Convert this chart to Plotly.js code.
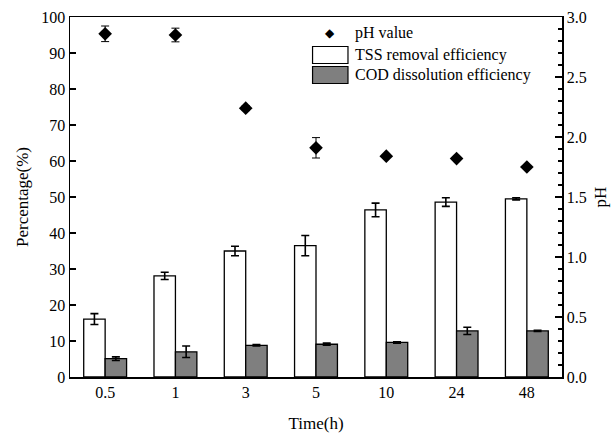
<!DOCTYPE html>
<html>
<head>
<meta charset="utf-8">
<script src="https://cdn.plot.ly/plotly-3.0.1.min.js"></script>
<style>html,body{margin:0;padding:0;background:#fff;}#chart{width:616px;height:433px;}</style>
</head>
<body>
<div id="chart"></div>
<script>
// Data
var times = ['0.5', '1', '3', '5', '10', '24', '48'];
var tssRemoval = [16.1, 28.1, 35.0, 36.5, 46.4, 48.6, 49.5];
var tssError = [1.5, 1.0, 1.3, 2.8, 1.9, 1.2, 0.3];
var codDissolution = [5.1, 7.0, 8.8, 9.1, 9.6, 12.8, 12.8];
var codError = [0.5, 1.6, 0.2, 0.3, 0.2, 1.0, 0.15];
var phValue = [2.86, 2.85, 2.24, 1.91, 1.84, 1.82, 1.75];
var phError = [0.065, 0.057, 0.02, 0.085, 0.01, 0.01, 0.01];
var leftTicks = [0, 10, 20, 30, 40, 50, 60, 70, 80, 90, 100];
var rightTicks = [0, 0.5, 1.0, 1.5, 2.0, 2.5, 3.0];
var legendLabels = ['pH value', 'TSS removal efficiency', 'COD dissolution efficiency'];

var font = 'Liberation Serif, Times New Roman, serif';

var traces = [
  {
    type: 'bar', name: legendLabels[1], x: times, y: tssRemoval,
    marker: {color: '#ffffff', line: {color: '#000000', width: 1.3}},
    error_y: {type: 'data', array: tssError, visible: true, color: '#000000', thickness: 1.6, width: 4},
    showlegend: false
  },
  {
    type: 'bar', name: legendLabels[2], x: times, y: codDissolution,
    marker: {color: '#7f7f7f', line: {color: '#000000', width: 1.3}},
    error_y: {type: 'data', array: codError, visible: true, color: '#000000', thickness: 1.6, width: 4},
    showlegend: false
  },
  {
    type: 'scatter', mode: 'markers', name: legendLabels[0], x: times, y: phValue, yaxis: 'y2',
    marker: {symbol: 'diamond', size: 10.5, color: '#000000'},
    error_y: {type: 'data', array: phError, visible: true, color: '#000000', thickness: 1, width: 4},
    showlegend: false
  }
];

// Manual legend (large swatches as in the reference)
var lx0 = 0.493, lx1 = 0.565, ltx = 0.575;
function py(pix) { return (377 - pix) / 360; }
var shapes = [
  {type: 'rect', xref: 'paper', yref: 'paper', x0: lx0, x1: lx1, y0: py(63.5), y1: py(46.5),
   fillcolor: '#ffffff', line: {color: '#000000', width: 1.2}},
  {type: 'rect', xref: 'paper', yref: 'paper', x0: lx0, x1: lx1, y0: py(83.5), y1: py(66.5),
   fillcolor: '#7f7f7f', line: {color: '#000000', width: 1.2}}
];
var annotations = [
  {xref: 'paper', yref: 'paper', x: (lx0 + lx1) / 2, y: py(33.5), text: '◆', showarrow: false,
   font: {family: 'DejaVu Sans', size: 12, color: '#000'}, xanchor: 'center', yanchor: 'middle'},
  {xref: 'paper', yref: 'paper', x: ltx, y: py(33.5), text: legendLabels[0], showarrow: false,
   font: {family: font, size: 16, color: '#000'}, xanchor: 'left', yanchor: 'middle'},
  {xref: 'paper', yref: 'paper', x: ltx, y: py(55), text: legendLabels[1], showarrow: false,
   font: {family: font, size: 16, color: '#000'}, xanchor: 'left', yanchor: 'middle'},
  {xref: 'paper', yref: 'paper', x: ltx, y: py(75), text: legendLabels[2], showarrow: false,
   font: {family: font, size: 16, color: '#000'}, xanchor: 'left', yanchor: 'middle'}
];

var layout = {
  width: 616, height: 433,
  margin: {l: 70, r: 54, t: 17, b: 56},
  paper_bgcolor: '#ffffff', plot_bgcolor: '#ffffff',
  font: {family: font, size: 16, color: '#000000'},
  barmode: 'group', bargap: 0.39, bargroupgap: 0,
  showlegend: false,
  xaxis: {
    type: 'category', categoryorder: 'array', categoryarray: times,
    showline: true, linecolor: '#000', linewidth: 1.5, mirror: true,
    ticks: '', showgrid: false, zeroline: false,
    tickfont: {family: font, size: 16},
    title: {text: 'Time(h)', font: {family: font, size: 17}, standoff: 20}
  },
  yaxis: {
    range: [0, 100], tickvals: leftTicks, ticktext: leftTicks.map(String),
    showline: true, linecolor: '#000', linewidth: 1.5,
    ticks: 'inside', ticklen: 6, tickwidth: 1.5, tickcolor: '#000',
    showgrid: false, zeroline: false,
    tickfont: {family: font, size: 16},
    title: {text: 'Percentage(%)', font: {family: font, size: 17}, standoff: 8}
  },
  yaxis2: {
    overlaying: 'y', side: 'right', range: [0, 3],
    tickvals: rightTicks, ticktext: rightTicks.map(function (v) { return v.toFixed(1); }),
    showline: true, linecolor: '#000', linewidth: 1.5,
    ticks: 'inside', ticklen: 7, tickwidth: 1.5, tickcolor: '#000',
    minor: {dtick: 0.1, ticks: 'inside', ticklen: 4, tickwidth: 1.2, tickcolor: '#000'},
    showgrid: false, zeroline: false,
    tickfont: {family: font, size: 16},
    title: {text: 'pH', font: {family: font, size: 17}, standoff: 8}
  },
  shapes: shapes,
  annotations: annotations
};

Plotly.newPlot('chart', traces, layout, {displayModeBar: false, staticPlot: true});
</script>
</body>
</html>
